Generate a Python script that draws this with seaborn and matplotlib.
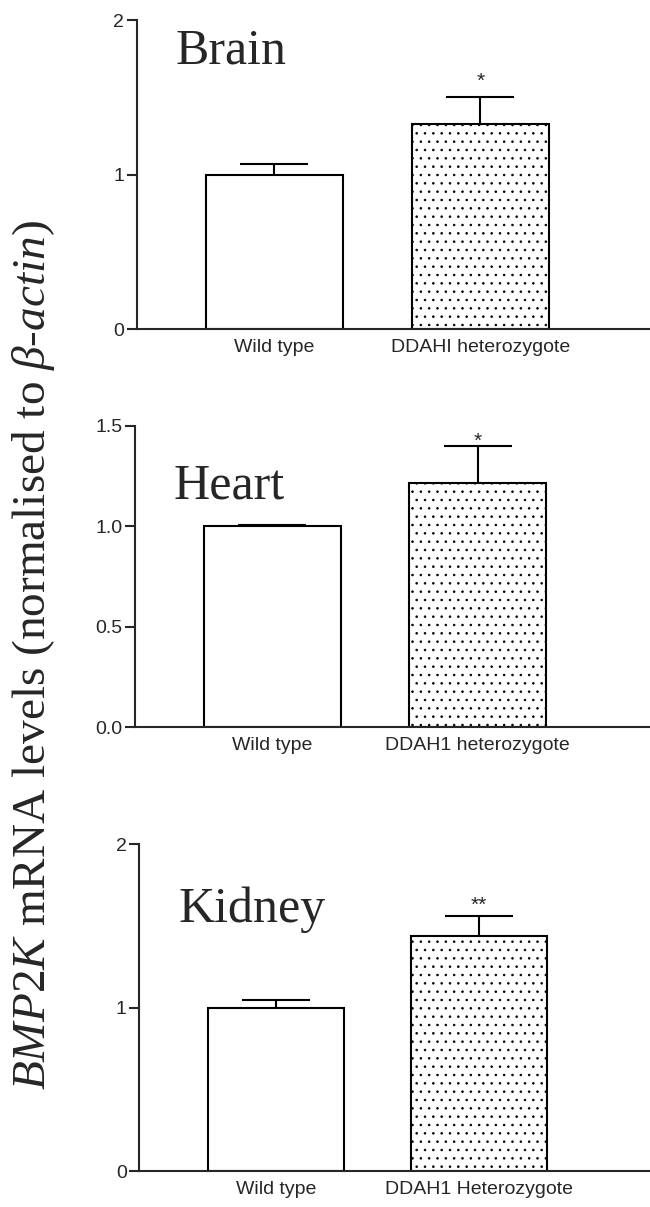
import numpy as np
import matplotlib
matplotlib.use('Agg')
import matplotlib.pyplot as plt
import seaborn as sns

# values
tissues = ['Brain', 'Heart', 'Kidney']
groups_brain = ['Wild type', 'DDAHI heterozygote']
groups_heart = ['Wild type', 'DDAH1 heterozygote']
groups_kidney = ['Wild type', 'DDAH1 Heterozygote']
mean_brain = [1.0, 1.327]
mean_heart = [1.0, 1.214]
mean_kidney = [1.0, 1.44]
sem_brain = [0.067, 0.176]
sem_heart = [0.005, 0.186]
sem_kidney = [0.045, 0.124]
stars = ['*', '*', '**']
yticks_brain = [0, 1, 2]
yticks_heart = [0.0, 0.5, 1.0, 1.5]
yticks_kidney = [0, 1, 2]
ytick_labels_brain = ['0', '1', '2']
ytick_labels_heart = ['0.0', '0.5', '1.0', '1.5']
ytick_labels_kidney = ['0', '1', '2']

sns.set_style('ticks')
plt.rcParams['font.family'] = ['Liberation Sans', 'DejaVu Sans']
plt.rcParams['mathtext.fontset'] = 'custom'
plt.rcParams['mathtext.rm'] = 'Liberation Serif'
plt.rcParams['mathtext.it'] = 'Liberation Serif:italic'
plt.rcParams['hatch.linewidth'] = 0.6
plt.rcParams['hatch.color'] = 'black'

fig = plt.figure(figsize=(6.5, 12.07), dpi=100)

panels = [
    dict(rect=[0.2103, 0.7274, 0.7897, 0.2560], xlim=(-0.669, 1.823), ylim=2,
         groups=groups_brain, means=mean_brain, sems=sem_brain,
         ticks=yticks_brain, labels=ytick_labels_brain, title_y=1.72, star_y=1.566),
    dict(rect=[0.2077, 0.3974, 0.7923, 0.2498], xlim=(-0.670, 1.840), ylim=1.5,
         groups=groups_heart, means=mean_heart, sems=sem_heart,
         ticks=yticks_heart, labels=ytick_labels_heart, title_y=1.139, star_y=1.395),
    dict(rect=[0.2143, 0.0298, 0.7857, 0.2707], xlim=(-0.672, 1.840), ylim=2,
         groups=groups_kidney, means=mean_kidney, sems=sem_kidney,
         ticks=yticks_kidney, labels=ytick_labels_kidney, title_y=1.525, star_y=1.594),
]

for i, p in enumerate(panels):
    ax = fig.add_axes(p['rect'])
    sns.barplot(x=p['groups'], y=p['means'], ax=ax, color='white', edgecolor='black',
                linewidth=1.5, width=0.667, errorbar=None, saturation=1)
    ax.patches[1].set_hatch('..')

    # one-sided (upper) SEM bars
    xs = np.arange(len(p['means']))
    eb = ax.errorbar(xs, p['means'], yerr=[[0] * len(xs), p['sems']], fmt='none',
                     ecolor='black', elinewidth=1.5, capsize=24.8, capthick=1.5, zorder=1)
    for cl in eb[1]:
        if np.allclose(cl.get_ydata(), p['means']):
            cl.set_visible(False)

    ax.text(1, p['star_y'], stars[i], ha='center', va='baseline', fontsize=15)
    ax.text(-0.48, p['title_y'], tissues[i], ha='left', va='baseline',
            fontsize=36, family='Liberation Serif')

    ax.set_xlim(*p['xlim'])
    ax.set_ylim(0, p['ylim'])
    ax.set_yticks(p['ticks'])
    ax.set_yticklabels(p['labels'])
    ax.tick_params(axis='y', length=7, width=1.5, pad=2, labelsize=14)
    ax.tick_params(axis='x', length=0, pad=7, labelsize=14)
    sns.despine(ax=ax)
    for s in ['left', 'bottom']:
        ax.spines[s].set_linewidth(1.5)
    ax.set_xlabel('')
    ax.set_ylabel('')

fig.text(0.052, 0.4577,
         r'$\mathit{BMP2K}$ mRNA levels (normalised to $\mathit{\beta}$-$\mathit{actin}$)',
         rotation=90, ha='center', va='center', fontsize=34, family='Liberation Serif')

fig.savefig('out.png', dpi=100)
